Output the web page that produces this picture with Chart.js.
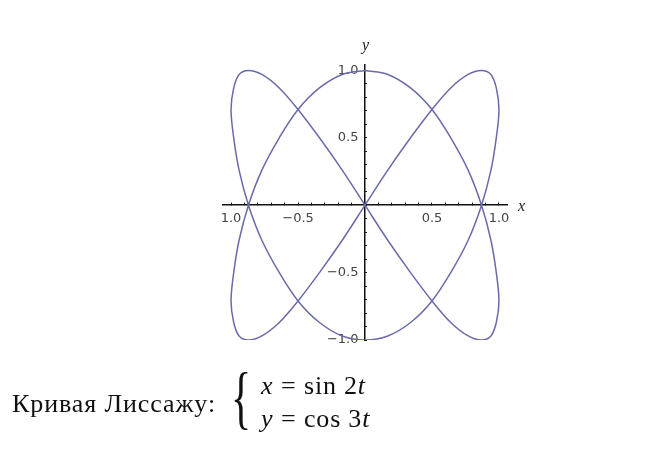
<!DOCTYPE html>
<html>
<head>
<meta charset="utf-8">
<script src="https://cdn.jsdelivr.net/npm/chart.js@4.4.0/dist/chart.umd.min.js"></script>
<style>
  body { margin: 0; background: #fff; }
  #wrap { position: relative; width: 653px; height: 464px; overflow: hidden; }
  #plot { position: absolute; left: 0; top: 0; }
  .lbl { position: absolute; font-family: "Liberation Serif", serif; font-style: italic; color: #222; }
  .cap { position: absolute; font-family: "Liberation Serif", serif; color: #111; white-space: nowrap; font-size: 26px; line-height: 1; }
  .cap i { font-style: italic; }
</style>
</head>
<body>
<div id="wrap">
  <canvas id="plot" width="653" height="464"></canvas>
  <div class="lbl" style="left:362px; top:36px; font-size:16px;">y</div>
  <div class="lbl" style="left:518px; top:197px; font-size:16px;">x</div>
  <div class="cap" style="left:12px; top:391px; letter-spacing:0.9px;">Кривая Лиссажу:</div>
  <div class="cap" style="left:231px; top:363px; font-size:60px; transform-origin: 0 0; transform: scale(0.7, 1.15);">{</div>
  <div class="cap" style="left:261px; top:373px;"><i>x</i></div>
  <div class="cap" style="left:281px; top:373px;">=</div>
  <div class="cap" style="left:304px; top:373px; letter-spacing:0.8px;">sin 2<i>t</i></div>
  <div class="cap" style="left:261px; top:406px;"><i>y</i></div>
  <div class="cap" style="left:281px; top:406px;">=</div>
  <div class="cap" style="left:304px; top:406px; letter-spacing:0.8px;">cos 3<i>t</i></div>
</div>
<script>
// точки кривой x = sin 2t, y = cos 3t (шаг t = 5°)
const xValues = [
  0, 0.17, 0.34, 0.5, 0.64, 0.77, 0.87, 0.94, 0.98, 1, 0.98, 0.94, 0.87, 0.77, 0.64, 0.5, 0.34, 0.17,
  0, -0.17, -0.34, -0.5, -0.64, -0.77, -0.87, -0.94, -0.98, -1, -0.98, -0.94, -0.87, -0.77, -0.64, -0.5, -0.34, -0.17,
  0, 0.17, 0.34, 0.5, 0.64, 0.77, 0.87, 0.94, 0.98, 1, 0.98, 0.94, 0.87, 0.77, 0.64, 0.5, 0.34, 0.17,
  0, -0.17, -0.34, -0.5, -0.64, -0.77, -0.87, -0.94, -0.98, -1, -0.98, -0.94, -0.87, -0.77, -0.64, -0.5, -0.34, -0.17,
  0
];
const yValues = [
  1, 0.97, 0.87, 0.71, 0.5, 0.26, 0, -0.26, -0.5, -0.71, -0.87, -0.97, -1, -0.97, -0.87, -0.71, -0.5, -0.26,
  0, 0.26, 0.5, 0.71, 0.87, 0.97, 1, 0.97, 0.87, 0.71, 0.5, 0.26, 0, -0.26, -0.5, -0.71, -0.87, -0.97,
  -1, -0.97, -0.87, -0.71, -0.5, -0.26, 0, 0.26, 0.5, 0.71, 0.87, 0.97, 1, 0.97, 0.87, 0.71, 0.5, 0.26,
  0, -0.26, -0.5, -0.71, -0.87, -0.97, -1, -0.97, -0.87, -0.71, -0.5, -0.26, 0, 0.26, 0.5, 0.71, 0.87, 0.97,
  1
];
const xTickValues = [-1, -0.5, 0.5, 1];
const xTickLabels = ['1.0', '\u22120.5', '0.5', '1.0'];
const yTickValues = [-1, -0.5, 0.5, 1];
const yTickLabels = ['\u22121.0', '\u22120.5', '0.5', '1.0'];

const points = xValues.map((x, i) => ({ x: x, y: yValues[i] }));

// мелкие деления через 0.1
function minorTicks(scale) {
  const t = [];
  for (let i = -10; i <= 10; i++) t.push({ value: i / 10 });
  scale.ticks = t;
}
function labelFrom(values, labels, gap) {
  return function (v) {
    const k = values.findIndex(a => Math.abs(a - v) < 1e-6);
    return k >= 0 ? labels[k] + gap : '';
  };
}

const ctx = document.getElementById('plot').getContext('2d');
const chart = new Chart(ctx, {
  type: 'scatter',
  data: {
    datasets: [{
      data: points,
      showLine: true,
      borderColor: '#6a6aab',
      borderWidth: 1.5,
      pointRadius: 0,
      tension: 0.35,
      fill: false
    }]
  },
  options: {
    responsive: false,
    animation: false,
    layout: { padding: { left: 223, right: 146, top: 65, bottom: 124 } },
    plugins: { legend: { display: false }, tooltip: { enabled: false } },
    scales: {
      x: {
        type: 'linear',
        position: { y: 0 },
        min: -1.06, max: 1.06,
        afterBuildTicks: minorTicks,
        grid: { drawOnChartArea: false, drawTicks: true, tickLength: -3, color: '#222', tickWidth: 1 },
        border: { display: true, color: '#111', width: 1.5 },
        ticks: {
          autoSkip: false, maxRotation: 0, padding: 9,
          color: '#444', font: { family: 'DejaVu Sans', size: 13 },
          callback: labelFrom(xTickValues, xTickLabels, '')
        }
      },
      y: {
        type: 'linear',
        position: { x: 0 },
        min: -1.0, max: 1.04,
        afterBuildTicks: minorTicks,
        grid: { drawOnChartArea: false, drawTicks: true, tickLength: -3, color: '#222', tickWidth: 1 },
        border: { display: true, color: '#111', width: 1.5 },
        ticks: {
          autoSkip: false, padding: 11,
          color: '#444', font: { family: 'DejaVu Sans', size: 13 },
          callback: labelFrom(yTickValues, yTickLabels, '\u2002')
        }
      }
    }
  }
});
</script>
</body>
</html>
